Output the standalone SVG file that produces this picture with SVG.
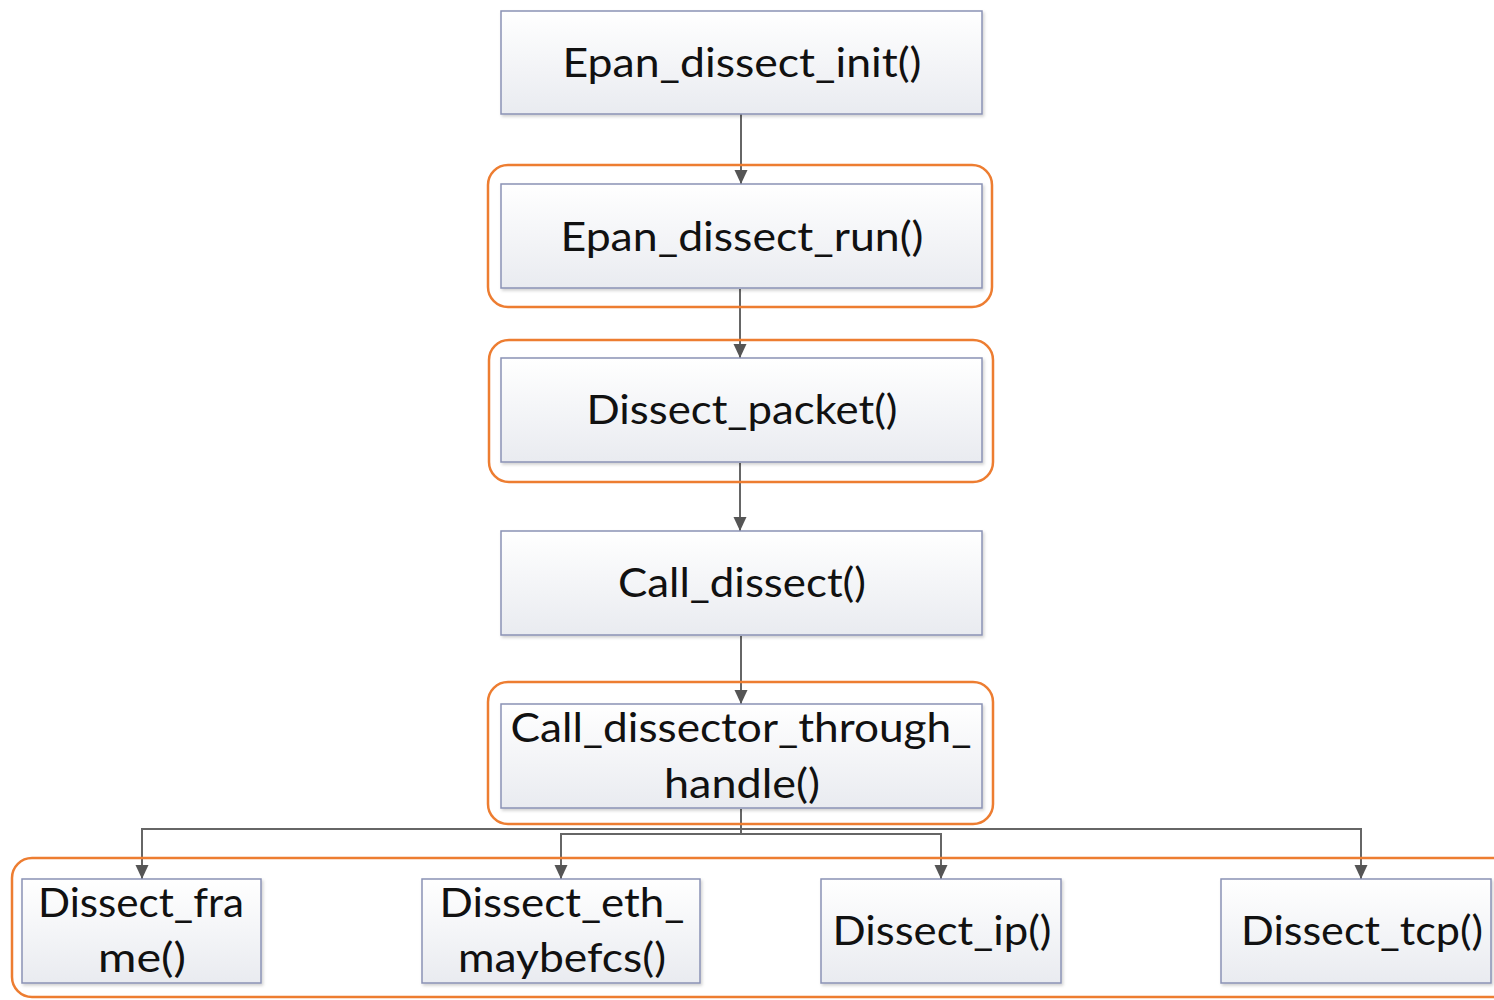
<svg xmlns="http://www.w3.org/2000/svg" width="1494" height="1000" viewBox="0 0 1494 1000">
<defs>
<linearGradient id="g" x1="0" y1="0" x2="0" y2="1">
<stop offset="0" stop-color="#ffffff"/>
<stop offset="1" stop-color="#e9ebf0"/>
</linearGradient>
<filter id="sh" x="-5%" y="-5%" width="110%" height="115%">
<feDropShadow dx="1.5" dy="2" stdDeviation="1.5" flood-color="#000" flood-opacity="0.18"/>
</filter>
<marker id="ah" markerWidth="14" markerHeight="14" viewBox="0 0 14 14" refX="14" refY="7" orient="auto" markerUnits="userSpaceOnUse">
<path d="M0,0.5 L14,7 L0,13.5 Z" fill="#555"/>
</marker>
</defs>
<style>
.box{fill:url(#g);stroke:#8a92b5;stroke-width:1.5;filter:url(#sh)}
.hl{fill:none;stroke:#ed7d31;stroke-width:2.5}
.t{font-family:Lato,"Open Sans","Liberation Sans",sans-serif;font-size:40px;fill:#111;text-anchor:middle}
.c{fill:none;stroke:#666;stroke-width:2}
</style>
<rect width="1494" height="1000" fill="#fff"/>
<g id="connectors">
<line class="c" x1="741" y1="114" x2="741" y2="184" marker-end="url(#ah)"/>
<line class="c" x1="740" y1="289" x2="740" y2="358" marker-end="url(#ah)"/>
<line class="c" x1="740" y1="463" x2="740" y2="531" marker-end="url(#ah)"/>
<line class="c" x1="741" y1="636" x2="741" y2="704" marker-end="url(#ah)"/>
<line class="c" x1="741" y1="809" x2="741" y2="834"/>
<polyline class="c" points="142,879 142,829 1361,829 1361,879" marker-end="url(#ah)"/>
<line class="c" x1="142" y1="829" x2="142" y2="879" marker-end="url(#ah)"/>
<polyline class="c" points="561,879 561,834 941,834 941,879" marker-end="url(#ah)"/>
<line class="c" x1="561" y1="834" x2="561" y2="879" marker-end="url(#ah)"/>
</g>
<g id="highlights">
<rect class="hl" x="488" y="165" width="504" height="142" rx="20"/>
<rect class="hl" x="489" y="340" width="504" height="142" rx="20"/>
<rect class="hl" x="488" y="682" width="505" height="142" rx="20"/>
<rect class="hl" x="12" y="858" width="1500" height="139" rx="20"/>
</g>
<g id="n1"><rect class="box" x="501" y="11" width="481" height="103"/><text class="t" x="742" y="77" textLength="359" lengthAdjust="spacingAndGlyphs">Epan_dissect_init()</text></g>
<g id="n2"><rect class="box" x="501" y="184" width="481" height="104"/><text class="t" x="742" y="251" textLength="363" lengthAdjust="spacingAndGlyphs">Epan_dissect_run()</text></g>
<g id="n3"><rect class="box" x="501" y="358" width="481" height="104"/><text class="t" x="742" y="424" textLength="311" lengthAdjust="spacingAndGlyphs">Dissect_packet()</text></g>
<g id="n4"><rect class="box" x="501" y="531" width="481" height="104"/><text class="t" x="742" y="597" textLength="248" lengthAdjust="spacingAndGlyphs">Call_dissect()</text></g>
<g id="n5"><rect class="box" x="501" y="704" width="481" height="104"/><text class="t" x="741" y="742" textLength="461" lengthAdjust="spacingAndGlyphs">Call_dissector_through_</text><text class="t" x="742" y="798" textLength="156" lengthAdjust="spacingAndGlyphs">handle()</text></g>
<g id="n6"><rect class="box" x="22" y="879" width="239" height="104"/><text class="t" x="141" y="917" textLength="206" lengthAdjust="spacingAndGlyphs">Dissect_fra</text><text class="t" x="142" y="972" textLength="88" lengthAdjust="spacingAndGlyphs">me()</text></g>
<g id="n7"><rect class="box" x="422" y="879" width="278" height="104"/><text class="t" x="562" y="917" textLength="245" lengthAdjust="spacingAndGlyphs">Dissect_eth_</text><text class="t" x="562" y="972" textLength="208" lengthAdjust="spacingAndGlyphs">maybefcs()</text></g>
<g id="n8"><rect class="box" x="821" y="879" width="240" height="104"/><text class="t" x="942" y="945" textLength="219" lengthAdjust="spacingAndGlyphs">Dissect_ip()</text></g>
<g id="n9"><rect class="box" x="1221" y="879" width="270" height="104"/><text class="t" x="1362" y="945" textLength="242" lengthAdjust="spacingAndGlyphs">Dissect_tcp()</text></g>
</svg>
